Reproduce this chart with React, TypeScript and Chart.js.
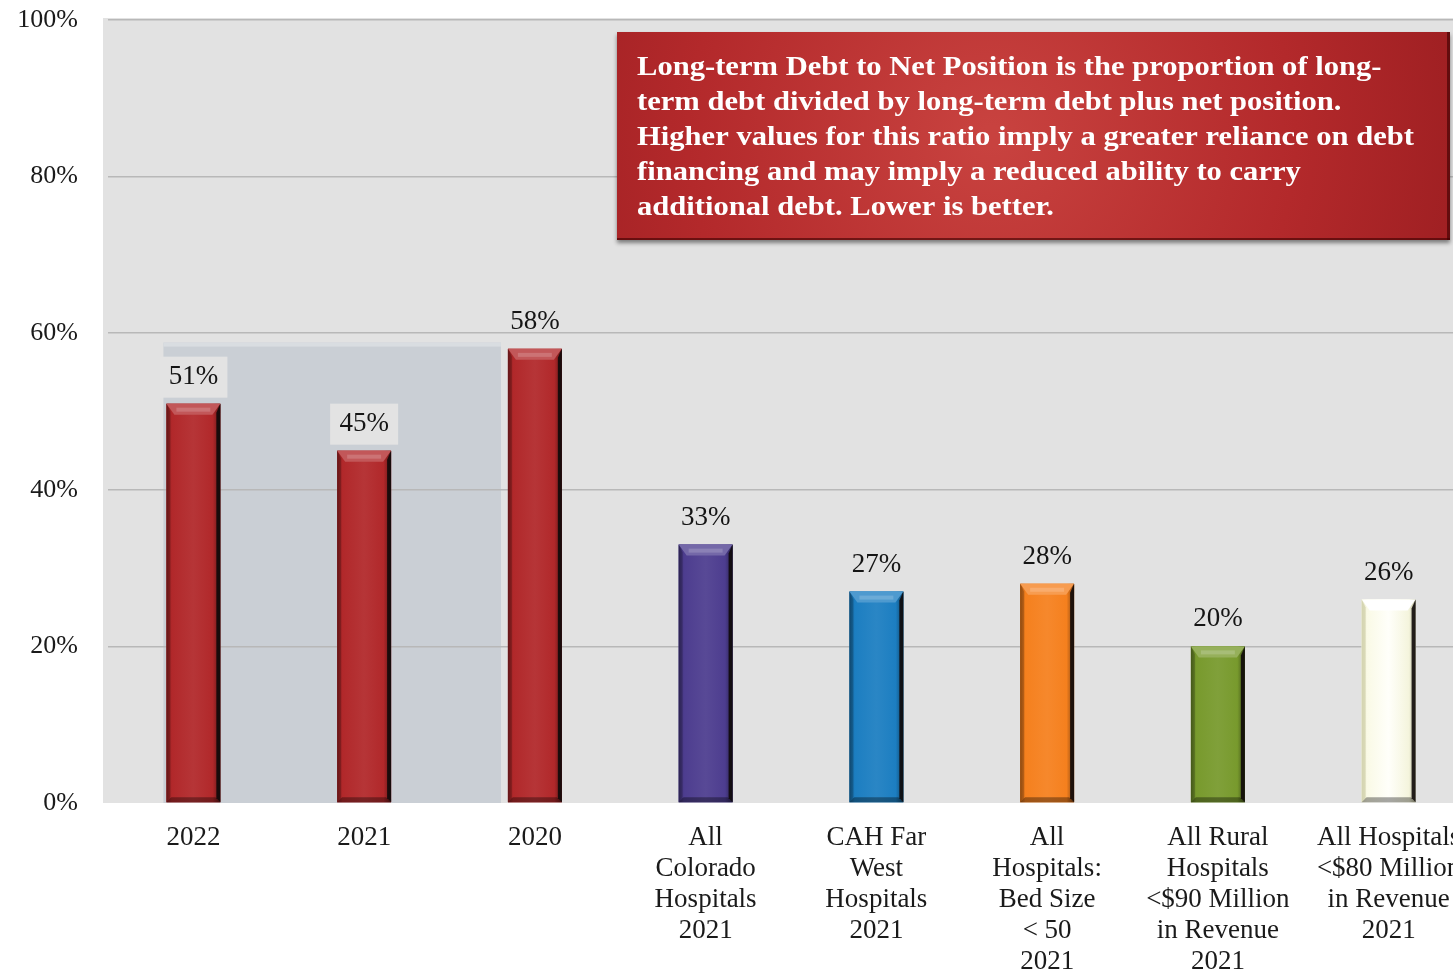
import React, { useEffect, useRef } from "react";
import { Chart, registerables } from "chart.js";
Chart.register(...registerables);

const categories: string[][] = [
  ["2022"],
  ["2021"],
  ["2020"],
  ["All", "Colorado", "Hospitals", "2021"],
  ["CAH Far", "West", "Hospitals", "2021"],
  ["All", "Hospitals:", "Bed Size", "< 50", "2021"],
  ["All Rural", "Hospitals", "<$90 Million", "in Revenue", "2021"],
  ["All Hospitals", "<$80 Million", "in Revenue", "2021"],
];
const values: number[] = [51, 45, 58, 33, 27, 28, 20, 26];
const barColors: string[] = [
  "#B1282A",
  "#B1282A",
  "#B1282A",
  "#4D3D8F",
  "#1C7EC1",
  "#F5801E",
  "#789A2D",
  "#FFFFF2",
];
const yTickValues: number[] = [0, 20, 40, 60, 80, 100];
const noteLines: string[] = [
  "Long-term Debt to Net Position is the proportion of long-",
  "term debt divided by long-term debt plus net position.",
  "Higher values for this ratio imply a greater reliance on debt",
  "financing and may imply a reduced ability to carry",
  "additional debt. Lower is better.",
];
const highlightedCount = 2; // first two categories sit on the highlight panel

const SERIF = "'Liberation Serif', 'Times New Roman', serif";

function hexToRgb(h: string): [number, number, number] {
  const n = parseInt(h.slice(1), 16);
  return [(n >> 16) & 255, (n >> 8) & 255, n & 255];
}
function mix(h: string, target: number, amt: number): string {
  const [r, g, b] = hexToRgb(h);
  const f = (c: number) => Math.round(c + (target - c) * amt);
  return `rgb(${f(r)},${f(g)},${f(b)})`;
}

const bgPlugin = {
  id: "bgPlugin",
  beforeDraw(chart: any) {
    const { ctx, chartArea, scales } = chart;
    const { left, right, top, bottom } = chartArea;
    ctx.save();
    ctx.fillStyle = "#ffffff";
    ctx.fillRect(0, 0, chart.width, chart.height);
    ctx.fillStyle = "#E2E2E2";
    ctx.fillRect(left - 5, top - 2, right - left + 5, bottom - top + 2);
    // highlight panel behind first bars
    const x = scales.x;
    const y = scales.y;
    const step = x.getPixelForValue(1) - x.getPixelForValue(0);
    const barW = step * 0.316;
    const hl = x.getPixelForValue(0) - barW / 2 - 3;
    const hr = x.getPixelForValue(highlightedCount) - barW / 2 - 7;
    const ht = y.getPixelForValue(58.8);
    ctx.fillStyle = "#CACFD5";
    ctx.fillRect(hl, ht, hr - hl, bottom - ht);
    ctx.fillStyle = "#D9DDE1";
    ctx.fillRect(hl, ht, hr - hl, 4);
    ctx.restore();
  },
};

const barStylePlugin = {
  id: "barStyle",
  afterDatasetsDraw(chart: any) {
    const { ctx } = chart;
    const meta = chart.getDatasetMeta(0);
    ctx.save();
    meta.data.forEach((bar: any, i: number) => {
      const color = barColors[i];
      const w = bar.width;
      const l = bar.x - w / 2;
      const r = bar.x + w / 2;
      const top = bar.y;
      const bottom = bar.base;
      const h = bottom - top;
      const isWhite = color.toUpperCase() === "#FFFFF2";
      const g = ctx.createLinearGradient(l, 0, r, 0);
      if (isWhite) {
        g.addColorStop(0, "#E6E6C8");
        g.addColorStop(0.1, "#FAFAE6");
        g.addColorStop(0.5, "#FFFFFA");
        g.addColorStop(0.88, "#F4F4DC");
        g.addColorStop(1, "#B0B090");
      } else {
        g.addColorStop(0, mix(color, 0, 0.3));
        g.addColorStop(0.1, color);
        g.addColorStop(0.5, mix(color, 255, 0.06));
        g.addColorStop(0.86, color);
        g.addColorStop(1, mix(color, 0, 0.45));
      }
      ctx.fillStyle = g;
      ctx.fillRect(l, top, w, h);
      // top bevel
      ctx.beginPath();
      ctx.moveTo(l, top);
      ctx.lineTo(r, top);
      ctx.lineTo(r - 8, top + 11);
      ctx.lineTo(l + 8, top + 11);
      ctx.closePath();
      ctx.fillStyle = isWhite ? "#FFFFFF" : mix(color, 255, 0.22);
      ctx.fill();
      ctx.fillStyle = isWhite ? "rgba(255,255,255,0.9)" : mix(color, 255, 0.35);
      ctx.fillRect(l + 10, top + 4, w - 20, 4);
      // left bevel
      ctx.beginPath();
      ctx.moveTo(l, top);
      ctx.lineTo(l + 4, top + 8);
      ctx.lineTo(l + 4, bottom - 4);
      ctx.lineTo(l, bottom);
      ctx.closePath();
      ctx.fillStyle = isWhite ? "rgba(200,200,160,0.6)" : "rgba(0,0,0,0.18)";
      ctx.fill();
      // bottom bevel
      ctx.beginPath();
      ctx.moveTo(l, bottom);
      ctx.lineTo(l + 5, bottom - 5);
      ctx.lineTo(r - 5, bottom - 5);
      ctx.lineTo(r, bottom);
      ctx.closePath();
      ctx.fillStyle = "rgba(0,0,0,0.35)";
      ctx.fill();
      // right dark edge
      ctx.beginPath();
      ctx.moveTo(r, top);
      ctx.lineTo(r, bottom);
      ctx.lineTo(r - 4, bottom - 4);
      ctx.lineTo(r - 4, top + 9);
      ctx.closePath();
      ctx.fillStyle = "rgba(15,10,10,0.9)";
      ctx.fill();
    });
    ctx.restore();
  },
};

const valueLabelPlugin = {
  id: "valueLabels",
  afterDatasetsDraw(chart: any) {
    const { ctx } = chart;
    const meta = chart.getDatasetMeta(0);
    ctx.save();
    ctx.font = `27px ${SERIF}`;
    ctx.textAlign = "center";
    ctx.textBaseline = "middle";
    meta.data.forEach((bar: any, i: number) => {
      const cy = bar.y - 27;
      if (i < highlightedCount) {
        ctx.fillStyle = "#E3E3E3";
        ctx.fillRect(bar.x - 34, cy - 20, 68, 41);
      }
      ctx.fillStyle = "#151515";
      ctx.fillText(values[i] + "%", bar.x, cy);
    });
    ctx.restore();
  },
};

const notePlugin = {
  id: "noteBox",
  afterDraw(chart: any) {
    const { ctx, chartArea } = chart;
    const bx = chartArea.left + 509;
    const by = chartArea.top + 12;
    const bw = 833;
    const bh = 208;
    ctx.save();
    ctx.shadowColor = "rgba(0,0,0,0.45)";
    ctx.shadowBlur = 4;
    ctx.shadowOffsetY = 3;
    ctx.fillStyle = "#A82224";
    ctx.fillRect(bx, by, bw, bh);
    ctx.shadowColor = "transparent";
    const rg = ctx.createRadialGradient(bx + bw * 0.45, by + bh * 0.5, 10, bx + bw * 0.45, by + bh * 0.5, bw * 0.6);
    rg.addColorStop(0, "#C8423F");
    rg.addColorStop(0.6, "#B3292B");
    rg.addColorStop(1, "#9C1E21");
    ctx.fillStyle = rg;
    ctx.fillRect(bx, by, bw, bh);
    ctx.fillStyle = "rgba(60,0,0,0.6)";
    ctx.fillRect(bx + bw - 3, by, 3, bh);
    ctx.fillRect(bx, by + bh - 2, bw, 2);
    ctx.font = `bold 27px ${SERIF}`;
    ctx.fillStyle = "#FFFFFF";
    ctx.textAlign = "left";
    ctx.textBaseline = "alphabetic";
    const target = 777;
    const measured = ctx.measureText(noteLines[2]).width;
    const sx = measured > 0 ? target / measured : 1;
    noteLines.forEach((line, k) => {
      ctx.save();
      ctx.translate(bx + 20, by + 43 + k * 35);
      ctx.scale(sx, 1);
      ctx.fillText(line, 0, 0);
      ctx.restore();
    });
    ctx.restore();
  },
};

export default function App() {
  const canvasRef = useRef<HTMLCanvasElement | null>(null);

  useEffect(() => {
    if (!canvasRef.current) return;
    const chart = new Chart(canvasRef.current, {
      type: "bar",
      data: {
        labels: categories,
        datasets: [
          {
            data: values,
            backgroundColor: barColors,
            borderWidth: 0,
            barPercentage: 0.316,
            categoryPercentage: 1,
          },
        ],
      },
      options: {
        animation: false,
        responsive: false,
        devicePixelRatio: 1,
        layout: { padding: { top: 20, left: 0, right: 0, bottom: 0 } },
        plugins: {
          legend: { display: false },
          tooltip: { enabled: false },
        },
        scales: {
          x: {
            offset: true,
            grid: { display: false },
            border: { display: false },
            ticks: {
              color: "#1A1A1A",
              font: { family: SERIF, size: 27, lineHeight: 31 / 27 },
              padding: 11,
              maxRotation: 0,
              minRotation: 0,
              autoSkip: false,
            },
            afterFit: (s: any) => {
              s.height = 168;
              s.paddingLeft = 0;
              s.paddingRight = 0;
            },
          },
          y: {
            min: 0,
            max: 100,
            afterBuildTicks: (s: any) => {
              s.ticks = yTickValues.map((v) => ({ value: v }));
            },
            grid: {
              color: (c: any) => (c.tick && c.tick.value === 0 ? "rgba(0,0,0,0)" : "#B8B8B8"),
              lineWidth: 1.5,
              drawTicks: false,
            },
            border: { display: false },
            ticks: {
              color: "#1A1A1A",
              font: { family: SERIF, size: 26 },
              padding: 30,
              callback: (v: any) => v + "%",
            },
            afterFit: (s: any) => {
              s.width = 108;
              s.paddingTop = 0;
              s.paddingBottom = 0;
            },
          },
        },
      },
      plugins: [bgPlugin, barStylePlugin, valueLabelPlugin, notePlugin],
    });
    return () => chart.destroy();
  }, []);

  return (
    <div
      style={{
        position: "fixed",
        left: 0,
        top: 0,
        width: 1453,
        height: 971,
        overflow: "hidden",
        background: "#ffffff",
      }}
    >
      <canvas ref={canvasRef} width={1474} height={971} style={{ width: 1474, height: 971, display: "block" }} />
    </div>
  );
}
